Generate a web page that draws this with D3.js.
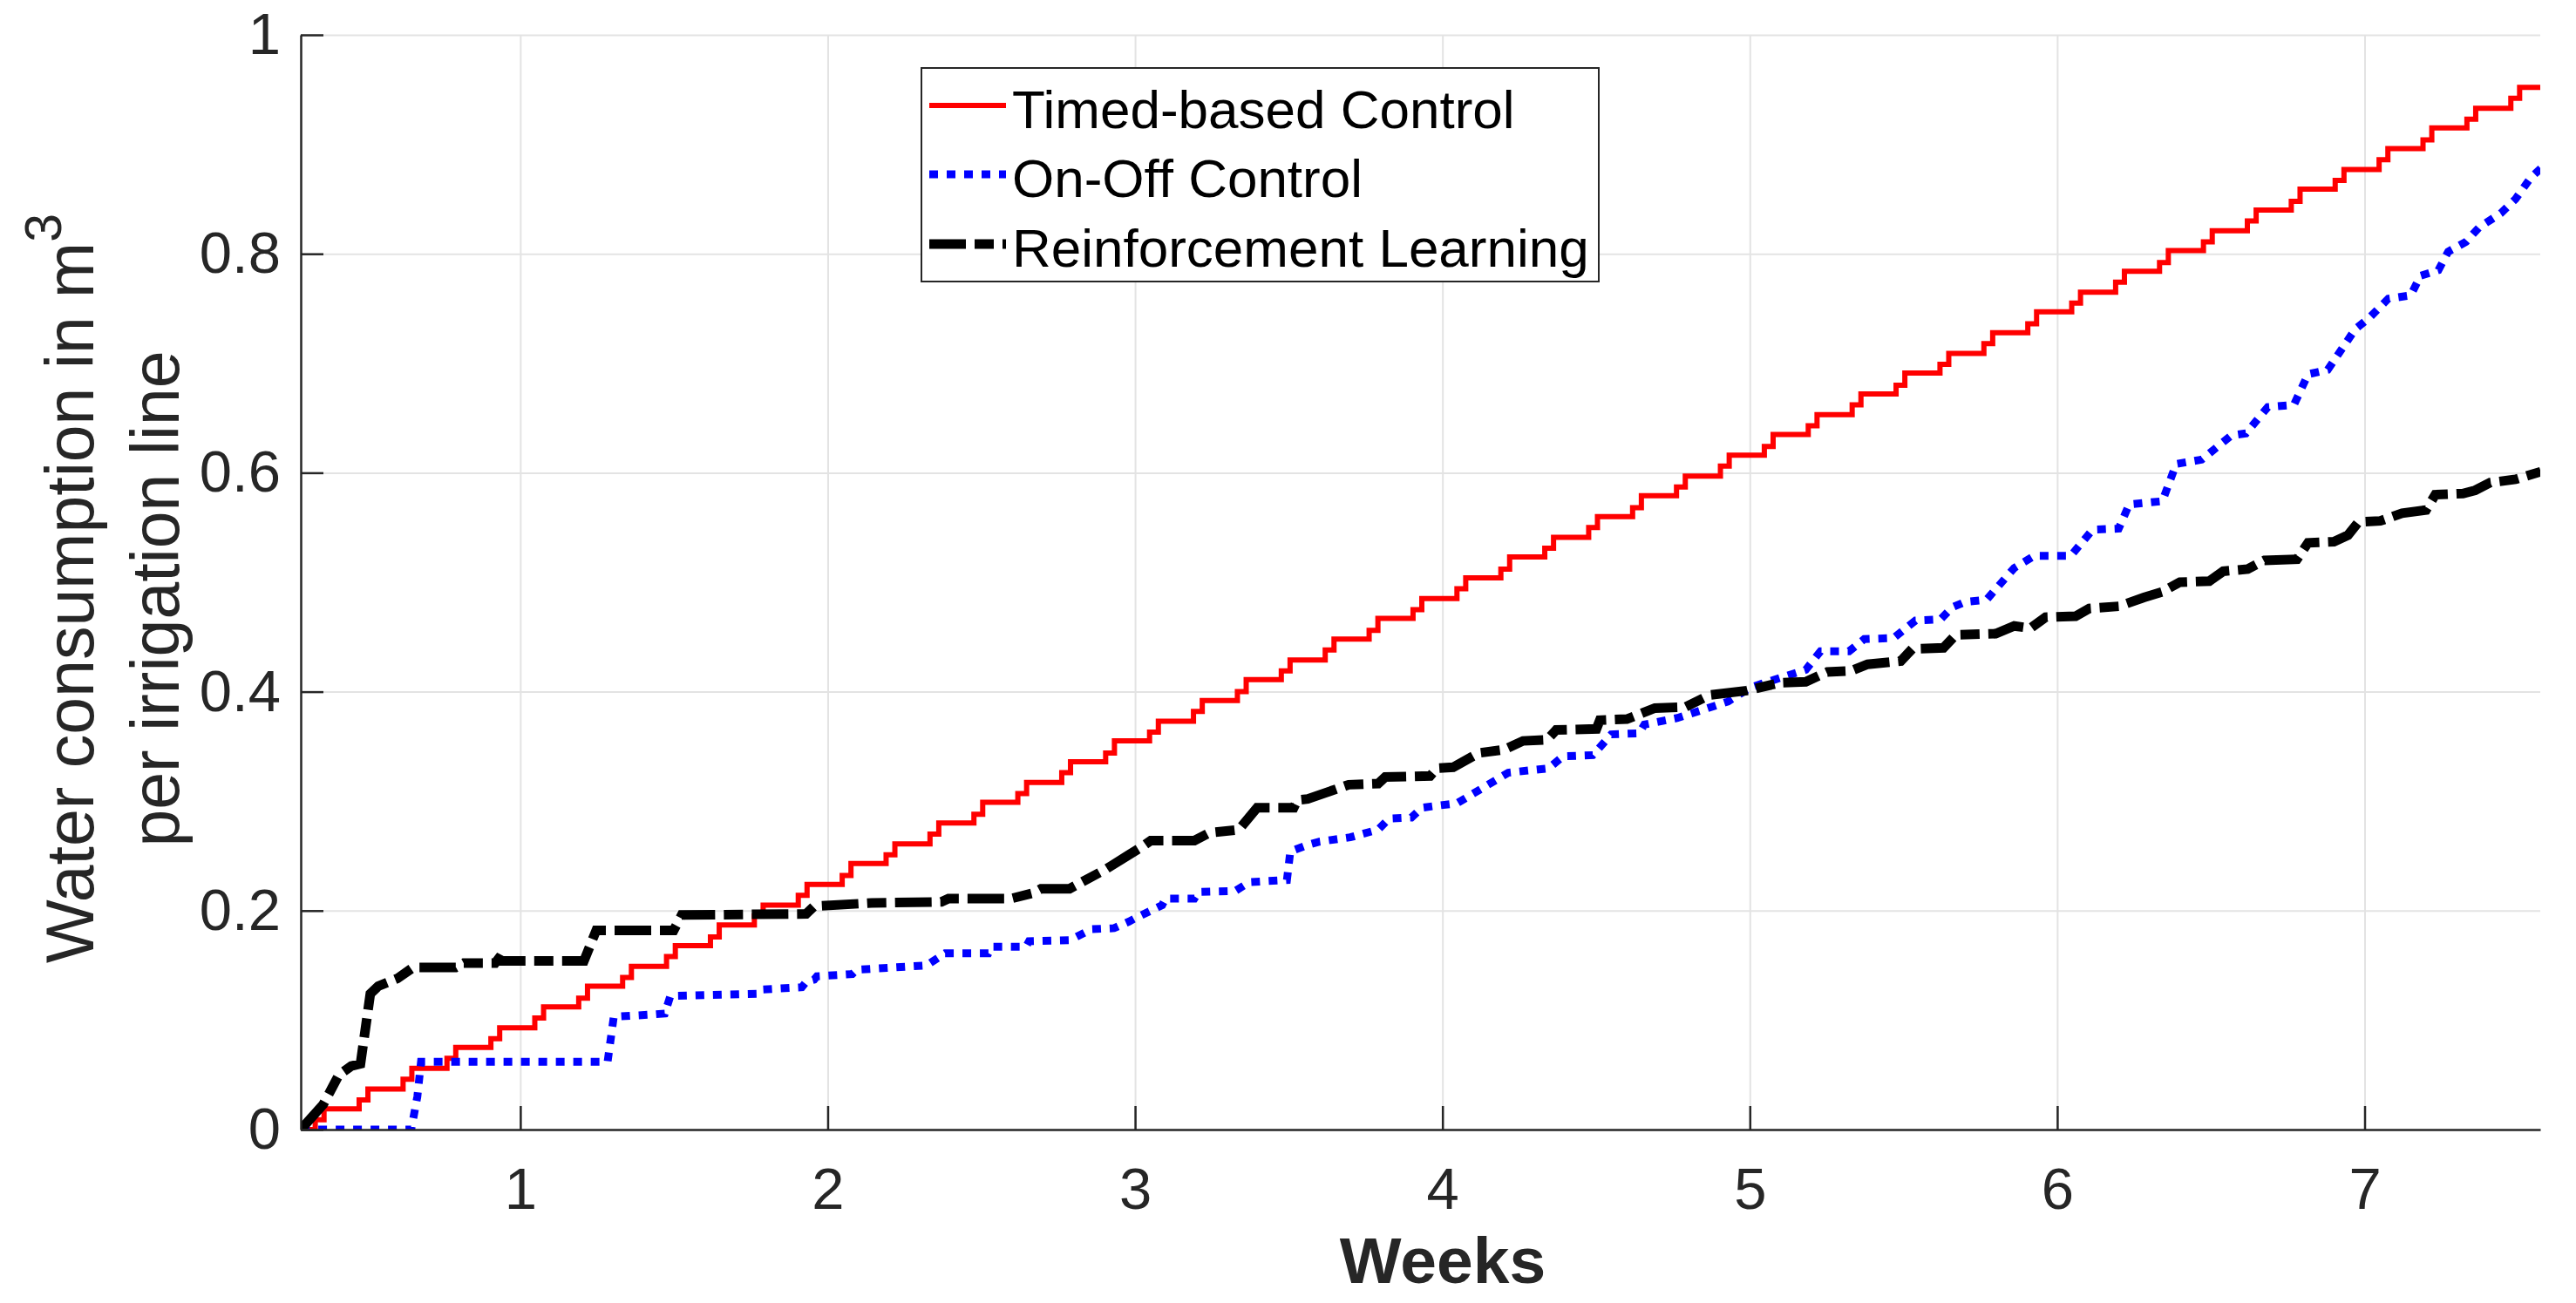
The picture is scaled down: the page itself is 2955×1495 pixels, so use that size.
<!DOCTYPE html>
<html>
<head>
<meta charset="utf-8">
<script src="https://cdn.jsdelivr.net/npm/d3@7"></script>
<style>
  body { margin: 0; background: #fff; }
  svg { display: block; font-family: "Liberation Sans", Arial, Helvetica, sans-serif; }
  .grid line { stroke: #e3e3e3; stroke-width: 2; }
  .grid .domain { display: none; }
  .axis path, .axis line { stroke: #262626; stroke-width: 2.5; }
  .axis text { fill: #262626; font-size: 67px; }
</style>
</head>
<body>
<svg id="chart"></svg>
<script>
// x is in weeks, y in m^3 per irrigation line
const xTicks = [1, 2, 3, 4, 5, 6, 7];
const yTicks = [0, 0.2, 0.4, 0.6, 0.8, 1];
const seriesNames = ['Timed-based Control', 'On-Off Control', 'Reinforcement Learning'];

// timed-based control: one double pulse per day -> [day, level after 1st pulse, level after 2nd pulse]
const timedStart = [2, 0];
const timedEnd = 53;
const timedPulseGap = 0.2; // days between the two pulses
const timedSteps = [
  [2.33, 0.009, 0.019], [3.33, 0.027, 0.037], [4.33, 0.046, 0.056], [5.33, 0.065, 0.075], [6.33, 0.083, 0.093],
  [7.33, 0.102, 0.112], [8.33, 0.120, 0.131], [9.33, 0.139, 0.149], [10.33, 0.158, 0.168], [11.33, 0.176, 0.187],
  [12.33, 0.195, 0.205], [13.33, 0.214, 0.224], [14.33, 0.232, 0.243], [15.33, 0.251, 0.261], [16.33, 0.270, 0.280],
  [17.33, 0.288, 0.299], [18.33, 0.307, 0.317], [19.33, 0.326, 0.336], [20.33, 0.344, 0.355], [21.33, 0.363, 0.373],
  [22.33, 0.382, 0.392], [23.33, 0.400, 0.411], [24.33, 0.419, 0.429], [25.33, 0.438, 0.448], [26.33, 0.456, 0.467],
  [27.33, 0.475, 0.485], [28.33, 0.494, 0.504], [29.33, 0.512, 0.523], [30.33, 0.531, 0.541], [31.33, 0.550, 0.560],
  [32.33, 0.568, 0.579], [33.33, 0.587, 0.597], [34.33, 0.606, 0.616], [35.33, 0.624, 0.635], [36.33, 0.643, 0.653],
  [37.33, 0.662, 0.672], [38.33, 0.680, 0.691], [39.33, 0.699, 0.709], [40.33, 0.718, 0.728], [41.33, 0.736, 0.747],
  [42.33, 0.755, 0.765], [43.33, 0.774, 0.784], [44.33, 0.792, 0.803], [45.33, 0.811, 0.821], [46.33, 0.830, 0.840],
  [47.33, 0.848, 0.859], [48.33, 0.867, 0.877], [49.33, 0.886, 0.896], [50.33, 0.904, 0.915], [51.33, 0.923, 0.933],
  [52.33, 0.942, 0.952]
];

// on-off control [week, value]
const onOff = [
  [0.286, 0], [0.645, 0], [0.665, 0.03], [0.677, 0.062], [1.284, 0.062], [1.304, 0.103], [1.423, 0.105],
  [1.470, 0.106], [1.488, 0.122], [1.777, 0.124], [1.790, 0.128], [1.916, 0.130], [1.930, 0.135], [1.956, 0.137],
  [1.965, 0.140], [2.080, 0.142], [2.095, 0.146], [2.322, 0.150], [2.382, 0.161], [2.523, 0.161], [2.535, 0.167],
  [2.645, 0.167], [2.655, 0.172], [2.787, 0.173], [2.858, 0.183], [2.932, 0.184], [2.980, 0.190], [3.000, 0.193],
  [3.088, 0.205], [3.099, 0.211], [3.193, 0.211], [3.207, 0.217], [3.326, 0.218], [3.372, 0.226], [3.494, 0.228],
  [3.505, 0.254], [3.562, 0.260], [3.600, 0.263], [3.700, 0.267], [3.791, 0.274], [3.826, 0.284], [3.899, 0.285],
  [3.933, 0.294], [3.987, 0.296], [4.047, 0.298], [4.214, 0.326], [4.345, 0.330], [4.393, 0.341], [4.489, 0.342],
  [4.549, 0.361], [4.640, 0.362], [4.657, 0.370], [4.765, 0.376], [4.929, 0.391], [5.003, 0.404], [5.182, 0.420],
  [5.230, 0.437], [5.323, 0.437], [5.372, 0.448], [5.468, 0.449], [5.539, 0.465], [5.620, 0.466], [5.658, 0.477],
  [5.700, 0.482], [5.770, 0.484], [5.860, 0.513], [5.925, 0.524], [6.044, 0.524], [6.115, 0.548], [6.200, 0.549],
  [6.234, 0.571], [6.342, 0.574], [6.387, 0.608], [6.470, 0.612], [6.566, 0.634], [6.614, 0.636], [6.685, 0.660],
  [6.770, 0.662], [6.816, 0.690], [6.880, 0.694], [6.969, 0.731], [7.017, 0.742], [7.077, 0.759], [7.150, 0.762],
  [7.182, 0.780], [7.240, 0.785], [7.272, 0.802], [7.330, 0.811], [7.372, 0.824], [7.443, 0.837], [7.491, 0.850],
  [7.539, 0.869], [7.573, 0.878]
];

// reinforcement learning [week, value]
const rl = [
  [0.286, 0], [0.359, 0.023], [0.410, 0.050], [0.450, 0.058], [0.480, 0.060], [0.512, 0.124], [0.538, 0.131],
  [0.600, 0.138], [0.651, 0.148], [0.790, 0.148], [0.816, 0.152], [0.918, 0.152], [0.929, 0.156], [0.943, 0.154],
  [1.207, 0.154], [1.247, 0.182], [1.499, 0.182], [1.525, 0.196], [1.930, 0.197], [1.956, 0.204], [2.143, 0.207],
  [2.370, 0.208], [2.393, 0.211], [2.597, 0.211], [2.668, 0.216], [2.694, 0.220], [2.787, 0.220], [2.906, 0.238],
  [2.980, 0.251], [3.026, 0.259], [3.051, 0.264], [3.193, 0.264], [3.241, 0.271], [3.338, 0.274], [3.397, 0.294],
  [3.516, 0.294], [3.528, 0.301], [3.562, 0.302], [3.695, 0.315], [3.791, 0.316], [3.814, 0.322], [3.960, 0.323],
  [3.982, 0.330], [4.035, 0.331], [4.118, 0.344], [4.200, 0.347], [4.262, 0.355], [4.340, 0.356], [4.370, 0.365],
  [4.501, 0.366], [4.512, 0.374], [4.600, 0.375], [4.691, 0.385], [4.790, 0.386], [4.870, 0.397], [4.990, 0.401],
  [5.096, 0.408], [5.182, 0.409], [5.252, 0.418], [5.330, 0.419], [5.383, 0.425], [5.491, 0.428], [5.528, 0.439],
  [5.630, 0.440], [5.670, 0.452], [5.800, 0.453], [5.860, 0.460], [5.913, 0.458], [5.962, 0.468], [6.060, 0.469],
  [6.104, 0.476], [6.200, 0.478], [6.282, 0.486], [6.340, 0.491], [6.399, 0.500], [6.495, 0.501], [6.540, 0.510],
  [6.620, 0.512], [6.674, 0.520], [6.780, 0.521], [6.816, 0.536], [6.900, 0.537], [6.946, 0.543], [6.980, 0.555],
  [7.051, 0.556], [7.122, 0.563], [7.200, 0.566], [7.230, 0.580], [7.320, 0.581], [7.360, 0.584], [7.409, 0.591],
  [7.491, 0.594], [7.573, 0.601]
];

const width = 2955, height = 1495;
const margin = {top: 40, right: 41, bottom: 199, left: 345};
const innerW = width - margin.left - margin.right;
const innerH = height - margin.top - margin.bottom;

const svg = d3.select('#chart').attr('width', width).attr('height', height);
const chart = svg.append('g').attr('transform', `translate(${margin.left},${margin.top})`);

const xScale = d3.scaleLinear().domain([2 / 7, 53 / 7]).range([0, innerW]);
const yScale = d3.scaleLinear().domain([0, 1]).range([innerH, 0]);

// gridlines
chart.append('g')
    .attr('class', 'grid')
    .attr('transform', `translate(0,${innerH})`)
    .call(d3.axisBottom(xScale).tickValues(xTicks).tickSize(-innerH).tickFormat(''));
chart.append('g')
    .attr('class', 'grid')
    .call(d3.axisLeft(yScale).tickValues(yTicks.filter(d => d > 0)).tickSize(-innerW).tickFormat(''));

chart.append('clipPath').attr('id', 'plot-clip')
    .append('rect').attr('width', innerW).attr('height', innerH + 6).attr('y', -6);

// timed-based points built from the daily pulses
const timedPts = [timedStart];
timedSteps.forEach(s => {
    timedPts.push([s[0], s[1]]);
    timedPts.push([s[0] + timedPulseGap, s[2]]);
});
timedPts.push([timedEnd, timedSteps[timedSteps.length - 1][2]]);

const stepLine = d3.line()
    .x(d => xScale(d[0] / 7))
    .y(d => yScale(d[1]))
    .curve(d3.curveStepAfter);

const line = d3.line()
    .x(d => xScale(d[0]))
    .y(d => yScale(d[1]));

const styles = [
    {color: '#ff0000', width: 6, dash: null},
    {color: '#0000ff', width: 9, dash: '10 10'},
    {color: '#000000', width: 11, dash: '42 10 22 10'}
];

const lines = chart.append('g').attr('clip-path', 'url(#plot-clip)');
lines.append('path').datum(timedPts)
    .attr('d', stepLine)
    .attr('fill', 'none').attr('stroke', styles[0].color).attr('stroke-width', styles[0].width);
lines.append('path').datum(onOff)
    .attr('d', line)
    .attr('fill', 'none').attr('stroke', styles[1].color).attr('stroke-width', styles[1].width)
    .attr('stroke-dasharray', styles[1].dash);
lines.append('path').datum(rl)
    .attr('d', line)
    .attr('fill', 'none').attr('stroke', styles[2].color).attr('stroke-width', styles[2].width)
    .attr('stroke-dasharray', styles[2].dash);

// axes, ticks pointing inward
chart.append('g')
    .attr('class', 'axis x-axis')
    .attr('transform', `translate(0,${innerH})`)
    .call(d3.axisBottom(xScale).tickValues(xTicks).tickSizeInner(-27).tickSizeOuter(0).tickPadding(43).tickFormat(d3.format('d')));

chart.append('g')
    .attr('class', 'axis y-axis')
    .call(d3.axisLeft(yScale).tickValues(yTicks).tickSizeInner(-26).tickSizeOuter(0).tickPadding(23).tickFormat(d => d === 0 || d === 1 ? d : d.toFixed(1)));

chart.selectAll('.axis .tick text').attr('font-family', null).attr('font-size', null);

// axis titles
svg.append('text')
    .attr('x', 1655)
    .attr('y', 1472)
    .attr('text-anchor', 'middle')
    .attr('font-weight', 'bold')
    .attr('font-size', 75)
    .attr('fill', '#262626')
    .text('Weeks');

const yTitle = svg.append('g').attr('transform', 'translate(0,675) rotate(-90)');
const t1 = yTitle.append('text')
    .attr('x', 0).attr('y', 107)
    .attr('text-anchor', 'middle')
    .attr('font-size', 77)
    .attr('fill', '#262626');
t1.append('tspan').text('Water consumption in m');
t1.append('tspan').attr('font-size', 59).attr('dy', -37).text('3');
yTitle.append('text')
    .attr('x', -12).attr('y', 205)
    .attr('text-anchor', 'middle')
    .attr('font-size', 77)
    .attr('fill', '#262626')
    .text('per irrigation line');

// legend
const legend = svg.append('g').attr('class', 'legend');
legend.append('rect')
    .attr('x', 1057).attr('y', 78).attr('width', 777).attr('height', 245)
    .attr('fill', '#fff').attr('stroke', '#262626').attr('stroke-width', 2);

const rowY = [121, 200, 280];
seriesNames.forEach((name, i) => {
    const g = legend.append('g').attr('transform', `translate(0,${rowY[i]})`);
    g.append('line')
        .attr('x1', 1066).attr('x2', 1154).attr('y1', 0).attr('y2', 0)
        .attr('stroke', styles[i].color)
        .attr('stroke-width', styles[i].width)
        .attr('stroke-dasharray', styles[i].dash);
    g.append('text')
        .attr('x', 1161).attr('y', 26)
        .attr('font-size', 62)
        .attr('fill', '#000')
        .text(name);
});
</script>
</body>
</html>
